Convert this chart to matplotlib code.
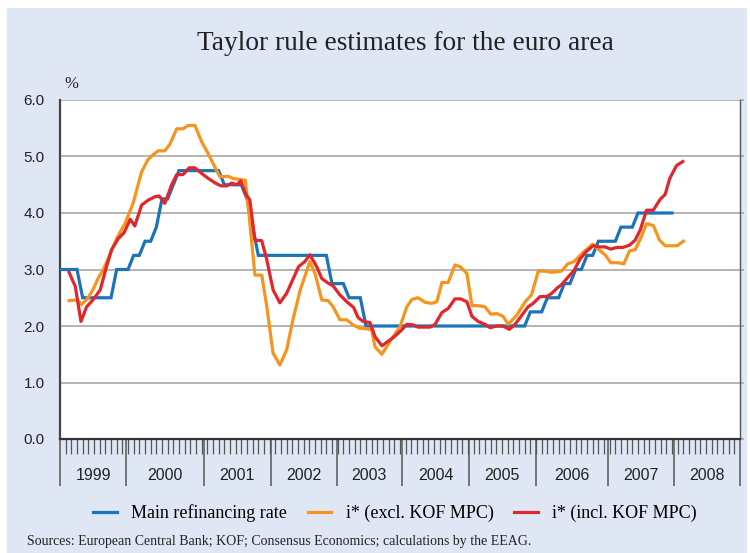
import numpy as np
import matplotlib.pyplot as plt
from matplotlib.patches import Rectangle
from matplotlib.transforms import blended_transform_factory

# months since Jan 1999 (x) and rate in percent (y)
refi_start = [0, 4, 10, 13, 15, 17, 18, 20, 21, 29, 33, 34, 35, 48, 51, 54,
              83, 86, 89, 91, 93, 95, 99, 102]
refi_rate = [3.0, 2.5, 3.0, 3.25, 3.5, 3.75, 4.25, 4.5, 4.75, 4.5, 4.25, 3.75,
             3.25, 2.75, 2.5, 2.0, 2.25, 2.5, 2.75, 3.0, 3.25, 3.5, 3.75, 4.0]
refi_end = 108

excl_month = [1.6, 3.0, 3.8, 4.9, 5.8, 6.7, 7.6, 8.8, 10.0, 11.5, 12.9, 14.4,
              15.5, 16.4, 17.3, 18.5, 19.4, 20.6, 21.7, 22.6, 23.8, 25.0, 26.1,
              27.0, 28.2, 29.7, 30.5, 31.4, 32.7, 33.4, 34.4, 35.6, 36.5, 37.6,
              38.8, 40.0, 41.1, 42.4, 44.1, 45.0, 46.2, 47.3, 48.2, 49.4, 50.6,
              51.7, 52.9, 54.1, 55.0, 55.6, 56.8, 58.2, 60.0, 61.2, 62.1, 63.2,
              64.4, 65.6, 66.5, 67.4, 68.5, 69.7, 70.6, 71.8, 72.7, 73.8, 75.0,
              76.0, 77.1, 78.2, 79.1, 80.6, 82.1, 83.2, 84.4, 85.6, 86.8, 88.5,
              89.6, 90.7, 92.3, 94.0, 95.3, 96.2, 97.2, 98.5, 99.5, 100.5,
              101.5, 102.5, 103.5, 104.7, 105.8, 106.8, 107.9, 108.9, 110.0]
excl_rate = [2.45, 2.46, 2.38, 2.49, 2.64, 2.84, 2.99, 3.26, 3.55, 3.82, 4.17,
             4.73, 4.94, 5.03, 5.10, 5.10, 5.22, 5.49, 5.49, 5.55, 5.55, 5.26,
             5.06, 4.88, 4.64, 4.65, 4.61, 4.60, 4.58, 3.93, 2.90, 2.90, 2.34,
             1.52, 1.31, 1.58, 2.11, 2.64, 3.14, 2.93, 2.46, 2.45, 2.34, 2.11,
             2.11, 2.02, 1.96, 1.95, 1.93, 1.63, 1.50, 1.72, 1.99, 2.34, 2.47,
             2.50, 2.42, 2.40, 2.43, 2.77, 2.77, 3.08, 3.05, 2.93, 2.36, 2.36,
             2.34, 2.21, 2.22, 2.17, 2.03, 2.19, 2.43, 2.55, 2.97, 2.97, 2.95,
             2.97, 3.10, 3.14, 3.30, 3.45, 3.33, 3.26, 3.12, 3.12, 3.10, 3.33,
             3.35, 3.56, 3.81, 3.78, 3.52, 3.42, 3.42, 3.42, 3.50]

incl_month = [1.6, 2.7, 3.7, 4.7, 5.8, 7.1, 8.2, 9.1, 10.3, 11.3, 12.4, 13.2,
              14.4, 15.6, 16.8, 17.5, 18.5, 19.7, 20.6, 21.7, 22.8, 23.8, 25.0,
              26.2, 27.4, 28.4, 29.4, 30.3, 31.2, 31.9, 32.7, 33.5, 34.4, 35.6,
              36.5, 37.6, 38.8, 40.0, 42.1, 43.2, 44.1, 45.3, 46.2, 47.3, 48.2,
              49.4, 50.6, 51.8, 52.6, 53.5, 54.7, 55.6, 56.8, 57.9, 59.1, 60.3,
              61.2, 62.3, 63.2, 64.4, 65.3, 66.2, 67.4, 68.5, 69.7, 70.7, 71.8,
              72.7, 73.8, 75.0, 75.9, 77.1, 78.2, 79.3, 80.3, 81.5, 82.6, 83.5,
              84.7, 85.9, 86.8, 87.7, 88.5, 89.7, 90.7, 91.8, 92.9, 94.1, 95.2,
              96.2, 97.2, 98.2, 99.3, 100.5, 101.5, 102.4, 103.5, 104.7, 105.9,
              106.8, 107.6, 108.8, 109.9]
incl_rate = [2.95, 2.70, 2.08, 2.34, 2.46, 2.64, 3.05, 3.35, 3.55, 3.65, 3.89,
             3.77, 4.14, 4.23, 4.29, 4.30, 4.17, 4.50, 4.68, 4.68, 4.80, 4.80,
             4.70, 4.61, 4.53, 4.48, 4.48, 4.53, 4.50, 4.57, 4.35, 4.23, 3.52,
             3.51, 3.17, 2.64, 2.41, 2.58, 3.05, 3.14, 3.26, 3.05, 2.84, 2.76,
             2.71, 2.55, 2.43, 2.33, 2.15, 2.08, 2.06, 1.81, 1.65, 1.73, 1.82,
             1.93, 2.03, 2.02, 1.98, 1.98, 1.98, 2.03, 2.24, 2.31, 2.48, 2.48,
             2.43, 2.17, 2.08, 2.03, 1.97, 2.00, 2.00, 1.94, 2.03, 2.19, 2.34,
             2.40, 2.52, 2.52, 2.58, 2.67, 2.73, 2.87, 2.98, 3.19, 3.32, 3.42,
             3.40, 3.40, 3.36, 3.39, 3.39, 3.43, 3.52, 3.70, 4.05, 4.05, 4.24,
             4.33, 4.61, 4.84, 4.91]

years = ["1999", "2000", "2001", "2002", "2003", "2004", "2005", "2006",
         "2007", "2008"]
year_edges = [0, 11.65, 25.4, 37.2, 48.8, 60.4, 72.2, 83.95, 96.7, 108.35, 120]

# expand refinancing rate change points to a monthly series
durations = np.diff(refi_start + [refi_end + 1])
refi_monthly = np.repeat(refi_rate, durations)
refi_months = np.arange(len(refi_monthly))

BLUE = "#1a74b9"
ORANGE = "#f7941d"
RED = "#e2262b"
BG = "#dfe7f4"
SERIF = ["Liberation Serif", "DejaVu Serif"]
SANS = ["Liberation Sans", "DejaVu Sans"]

plt.rcParams['font.family'] = SANS

fig = plt.figure(figsize=(7.5, 5.53), dpi=100, facecolor="white")
fig.patches.append(Rectangle((7 / 750, 0), 740 / 750, 1 - 8 / 553,
                             transform=fig.transFigure, facecolor=BG,
                             edgecolor="none", zorder=-10))

ax = fig.add_axes([60 / 750, 114 / 553, 680 / 750, 339 / 553])
ax.set_facecolor("white")

l1, = ax.plot(refi_months, refi_monthly, color=BLUE, lw=2.3,
              solid_joinstyle="miter", zorder=3)
l2, = ax.plot(excl_month, excl_rate, color=ORANGE, lw=2.3, zorder=4)
l3, = ax.plot(incl_month, incl_rate, color=RED, lw=2.3, zorder=5)

ax.set_xlim(0, 120)
ax.set_ylim(0, 6)
ax.set_yticks(np.arange(0, 6.01, 1.0))
ax.set_yticklabels([f"{v:.1f}" for v in np.arange(0, 6.01, 1.0)], fontsize=11,
                   color="#222222")
ax.grid(axis="y", color="#a8a8a8", lw=1.2)
ax.set_axisbelow(True)
ax.tick_params(axis="y", left=False, right=True, length=3, width=1.2,
               color="#a8a8a8", pad=8)

ax.set_xticks(year_edges)
ax.set_xticklabels([])
ax.set_xticks(np.arange(0, 121, 1), minor=True)
ax.tick_params(axis="x", which="major", length=34, width=1.1, color="#555555")
ax.tick_params(axis="x", which="minor", length=11, width=0.9, color="#555555")

trans = blended_transform_factory(ax.transData, ax.transAxes)
for i, y in enumerate(years):
    ax.text((year_edges[i] + year_edges[i + 1]) / 2, -0.108, y, transform=trans,
            ha="center", va="center", fontsize=11.5, color="#222222")

ax.spines["top"].set_visible(False)
ax.spines["left"].set_color("#444444")
ax.spines["left"].set_linewidth(1.6)
ax.spines["bottom"].set_color("#333333")
ax.spines["bottom"].set_linewidth(1.6)
ax.spines["right"].set_color("#555555")
ax.spines["right"].set_linewidth(1.0)

fig.text(405 / 750, 1 - 43 / 553, "Taylor rule estimates for the euro area",
         ha="center", va="center", fontsize=19.7, family=SERIF, color="#222222")
fig.text(71 / 750, 1 - 84 / 553, "%", ha="center", va="center", fontsize=12,
         family=SERIF, color="#222222")

fig.legend([l1, l2, l3],
           ["Main refinancing rate", "i* (excl. KOF MPC)", "i* (incl. KOF MPC)"],
           loc="center", bbox_to_anchor=(395 / 750, 1 - 513 / 553), ncol=3,
           frameon=False, prop={"family": SERIF, "size": 13},
           handlelength=1.3, handletextpad=0.8, columnspacing=1.15)

fig.text(27 / 750, 1 - 541 / 553,
         "Sources: European Central Bank; KOF; Consensus Economics; calculations by the EEAG.",
         ha="left", va="center", fontsize=10, family=SERIF, color="#222222")

plt.savefig("out.png", dpi=100, facecolor=fig.get_facecolor())
